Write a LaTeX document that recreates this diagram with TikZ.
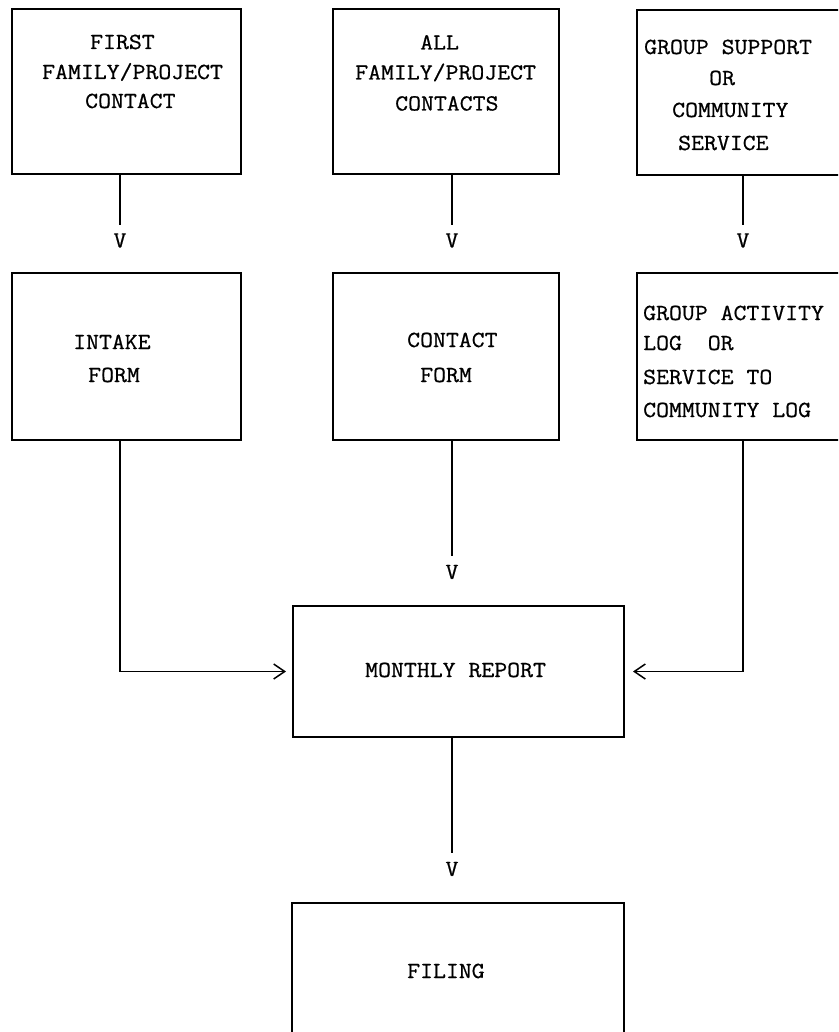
\documentclass[tikz,border=0pt]{standalone}
\usepackage{fontspec}
\setmonofont{Latin Modern Mono}[FakeStretch=1.09,FakeBold=0.7]
\usetikzlibrary{arrows.meta}
\tikzset{
  boxnode/.style={draw, line width=1.4pt, rectangle, anchor=north west, inner sep=0pt, outer sep=0pt},
  lbl/.style={anchor=base west, inner sep=0pt, font=\ttfamily\fontsize{23}{27}\selectfont},
  vtip/.style={anchor=center, inner sep=0pt, font=\ttfamily\fontsize{23}{27}\selectfont},
  conn/.style={line width=1.4pt},
  harrow/.style={line width=1.4pt, -{Straight Barb[length=11pt,width=15pt,line width=1.5pt]}}
}
\begin{document}
\begin{tikzpicture}[x=1pt,y=-1pt]
\useasboundingbox (0,0) rectangle (838,1032);
\clip (0,0) rectangle (838,1032);
\fill[white] (0,0) rectangle (838,1032);

% boxes
\node[boxnode, minimum width=229pt, minimum height=165pt] (b1) at (12,9) {};
\node[boxnode, minimum width=226pt, minimum height=165pt] (b2) at (333,9) {};
\node[boxnode, minimum width=250pt, minimum height=165pt] (b3) at (637,10) {};
\node[boxnode, minimum width=229pt, minimum height=167pt] (b4) at (12,273) {};
\node[boxnode, minimum width=226pt, minimum height=167pt] (b5) at (333,273) {};
\node[boxnode, minimum width=250pt, minimum height=167pt] (b6) at (637,273) {};
\node[boxnode, minimum width=331pt, minimum height=131pt] (mr) at (293,606) {};
\node[boxnode, minimum width=332pt, minimum height=200pt] (fl) at (292,903) {};

% texts
\node[lbl] (t1a) at (90,49) {FIRST};
\node[lbl] (t1b) at (42,79) {FAMILY/PROJECT};
\node[lbl] (t1c) at (85,108) {CONTACT};

\node[lbl] (t2a) at (420,49.5) {ALL};
\node[lbl] (t2b) at (355,79.5) {FAMILY/PROJECT};
\node[lbl] (t2c) at (395,110.5) {CONTACTS};

\node[lbl] (t3a) at (644,54) {GROUP SUPPORT};
\node[lbl] (t3b) at (709,85) {OR};
\node[lbl] (t3c) at (672,117) {COMMUNITY};
\node[lbl] (t3d) at (678,150) {SERVICE};

\node[lbl] (t4a) at (73,349) {INTAKE};
\node[lbl] (t4b) at (88,382) {FORM};

\node[lbl] (t5a) at (407,347) {CONTACT};
\node[lbl] (t5b) at (420,382) {FORM};

\node[lbl] (t6a) at (643,320) {GROUP ACTIVITY};
\node[lbl] (t6b) at (643,350) {LOG\ \ OR};
\node[lbl] (t6c) at (643,384) {SERVICE TO};
\node[lbl] (t6d) at (643,417) {COMMUNITY LOG};

\node[lbl] (tm) at (365,677) {MONTHLY REPORT};
\node[lbl] (tf) at (407,978) {FILING};

% V arrowheads (typed)
\node[vtip] (v1) at (120,240.5) {V};
\node[vtip] (v2) at (452,240.5) {V};
\node[vtip] (v3) at (743,240.5) {V};
\node[vtip] (v5) at (452,572) {V};
\node[vtip] (vm) at (452,869) {V};

% connectors
\draw[conn, shorten >=8.5pt] (b1.south -| v1) -- (v1.north);
\draw[conn, shorten >=8.5pt] (b2.south -| v2) -- (v2.north);
\draw[conn, shorten >=8.5pt] (b3.south -| v3) -- (v3.north);
\draw[conn, shorten >=8.5pt] (b5.south -| v5) -- (v5.north);
\draw[conn, shorten >=8.5pt] (mr.south -| vm) -- (vm.north);

\draw[harrow] (b4.south -| v1) |- ([xshift=-7pt]mr.west);
\draw[harrow] (b6.south -| v3) |- ([xshift=9pt]mr.east);
\end{tikzpicture}
\end{document}
